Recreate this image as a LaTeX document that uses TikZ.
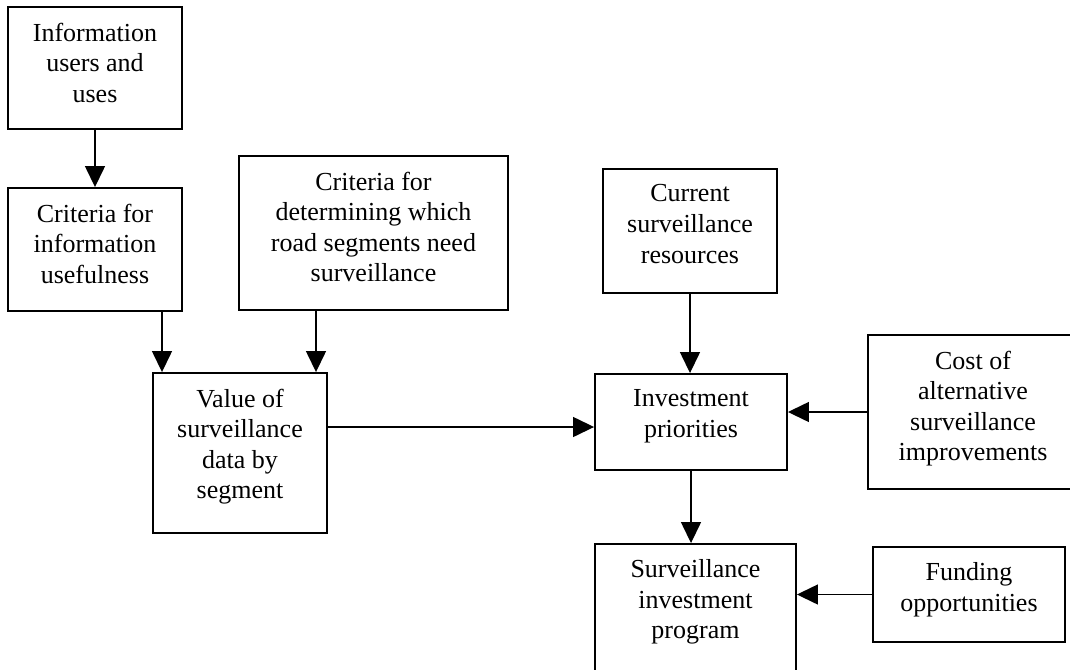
\documentclass[tikz,border=0pt]{standalone}
\usepackage{fontspec}
\setmainfont{Liberation Serif}
\usepackage{tikz}
\usetikzlibrary{calc}
\usetikzlibrary{arrows.meta}
\tikzset{
  boxNode/.style={%
    rectangle, draw, line width=1.9pt, inner sep=0pt,
  },
  boxText/.style={%
    anchor=north, yshift=-16.5pt, inner sep=0pt, align=center,
    font=\fontsize{26}{30.6}\selectfont,
  },
  flowArrow/.style={%
    line width=1.4pt, -{Triangle[length=21pt,width=20pt]},
  }
}

\begin{document}
\begin{tikzpicture}[x=1pt,y=-1pt]
                \clip (0,0) rectangle (1070,669);
                \node[boxNode, minimum width=174pt, minimum height=122pt,
                  label={[boxText]north:Information\\users and\\uses}]
                  (users) at (95,68) {};
                \node[boxNode, minimum width=174pt, minimum height=123pt,
                  label={[boxText]north:Criteria for\\information\\usefulness}]
                  (critInfo) at (95,249.5) {};
                \node[boxNode, minimum width=269pt, minimum height=154pt,
                  label={[boxText]north:Criteria for\\determining which\\road segments need\\surveillance}]
                  (critRoad) at (373.5,233) {};
                \node[boxNode, minimum width=174pt, minimum height=160pt,
                  label={[boxText]north:Value of\\surveillance\\data by\\segment}]
                  (value) at (240,453) {};
                \node[boxNode, minimum width=174pt, minimum height=124pt,
                  label={[boxText]north:Current\\surveillance\\resources}]
                  (current) at (690,231) {};
                \node[boxNode, minimum width=192pt, minimum height=96pt,
                  label={[boxText]north:Investment\\priorities}]
                  (invest) at (691,422) {};
                \node[boxNode, minimum width=210pt, minimum height=154pt,
                  label={[boxText]north:Cost of\\alternative\\surveillance\\improvements}]
                  (cost) at (973,412) {};
                \node[boxNode, minimum width=201pt, minimum height=128pt,
                  label={[boxText]north:Surveillance\\investment\\program}]
                  (program) at (695.5,608) {};
                \node[boxNode, minimum width=192pt, minimum height=95pt,
                  label={[boxText]north:Funding\\opportunities}]
                  (funding) at (969,594.5) {};
                \draw[flowArrow]
                  (users.south) -- (critInfo.north)
                  ;
                \draw[flowArrow]
                  ([xshift=67pt]critInfo.south) -- ([xshift=67pt]critInfo.south |- value.north)
                  ;
                \draw[flowArrow]
                  ([xshift=-57.5pt]critRoad.south) -- ([xshift=-57.5pt]critRoad.south |- value.north)
                  ;
                \draw[flowArrow]
                  ([yshift=-5pt]invest.west -| value.east) -- ([yshift=-5pt]invest.west)
                  ;
                \draw[flowArrow]
                  (current.south) -- (current.south |- invest.north)
                  ;
                \draw[flowArrow]
                  (cost.west) -- (cost.west -| invest.east)
                  ;
                \draw[flowArrow]
                  (invest.south) -- (invest.south |- program.north)
                  ;
                \draw[flowArrow]
                  (funding.west) -- (funding.west -| program.east)
                  ;
              \end{tikzpicture}
\end{document}
